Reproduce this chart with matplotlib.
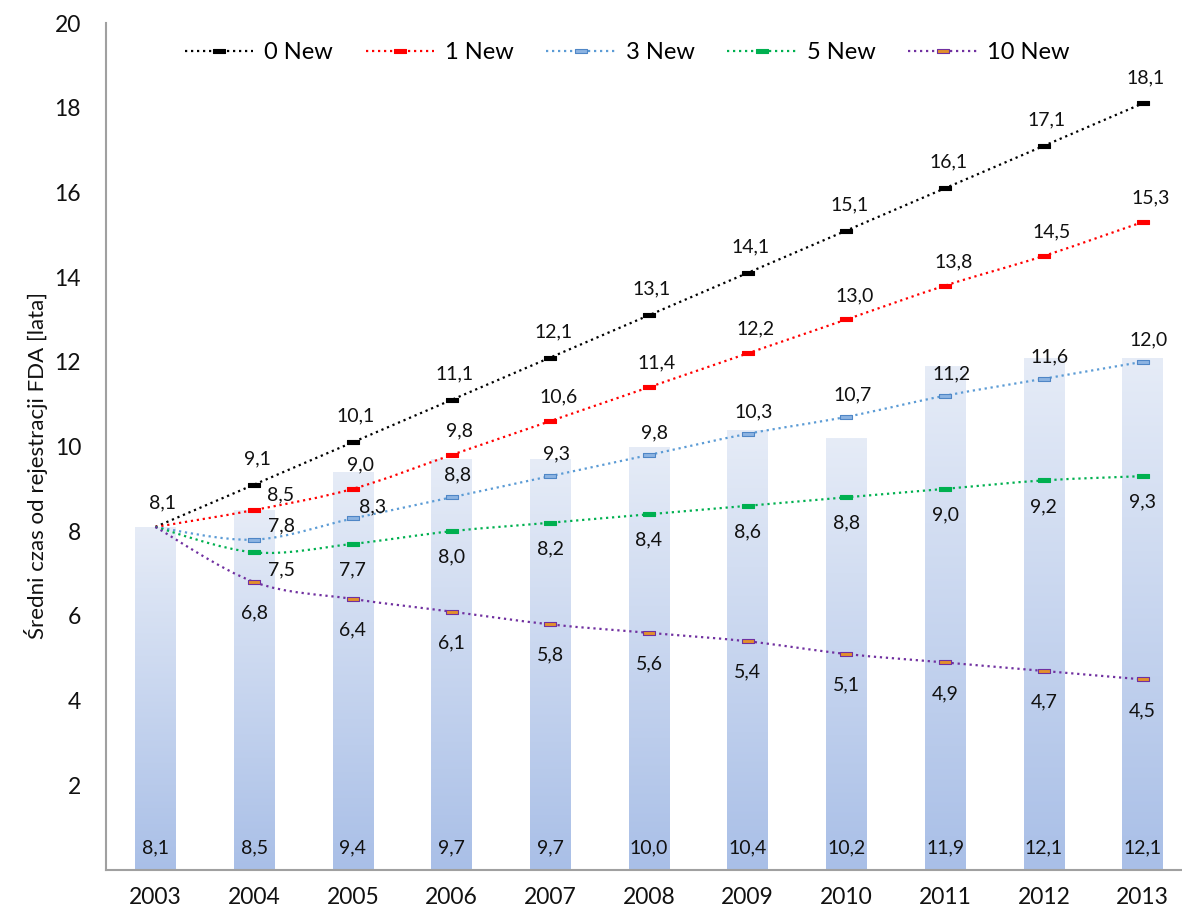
# -*- coding: utf-8 -*-
"""
Sredni czas od rejestracji FDA - prognoza 2003-2013
bars: actual mean age, dotted curves: scenarios with N new registrations
"""
import numpy as np
import matplotlib
matplotlib.use("Agg")
import matplotlib.pyplot as plt
from matplotlib.path import Path
from matplotlib.patches import PathPatch
from matplotlib.lines import Line2D
from matplotlib.colors import LinearSegmentedColormap

plt.rcParams['font.family'] = ['Lato', 'DejaVu Sans']

#------------------------------------------------------------------------------
years      = [2003, 2004, 2005, 2006, 2007, 2008, 2009, 2010, 2011, 2012, 2013]
bar_values = [8.1, 8.5, 9.4, 9.7, 9.7, 10.0, 10.4, 10.2, 11.9, 12.1, 12.1]

new_0  = [8.1, 9.1, 10.1, 11.1, 12.1, 13.1, 14.1, 15.1, 16.1, 17.1, 18.1]
new_1  = [8.1, 8.5, 9.0, 9.8, 10.6, 11.4, 12.2, 13.0, 13.8, 14.5, 15.3]
new_3  = [8.1, 7.8, 8.3, 8.8, 9.3, 9.8, 10.3, 10.7, 11.2, 11.6, 12.0]
new_5  = [8.1, 7.5, 7.7, 8.0, 8.2, 8.4, 8.6, 8.8, 9.0, 9.2, 9.3]
new_10 = [8.1, 6.8, 6.4, 6.1, 5.8, 5.6, 5.4, 5.1, 4.9, 4.7, 4.5]

series_labels = ['0 New', '1 New', '3 New', '5 New', '10 New']
y_ticks = [2, 4, 6, 8, 10, 12, 14, 16, 18, 20]

#------------------------------------------------------------------------------
def fmt(v):
    return ('%.1f' % v).replace('.', ',')

def smooth_path(xs, ys):
    # cubic bezier through the points (excel-like smoothing)
    pts = np.column_stack([xs, ys]).astype(float)
    n = len(pts)
    verts = [pts[0]]
    codes = [Path.MOVETO]
    for i in range(n - 1):
        p0 = pts[i - 1] if i > 0 else pts[i]
        p1 = pts[i]
        p2 = pts[i + 1]
        p3 = pts[i + 2] if i + 2 < n else pts[i + 1]
        c1 = p1 + (p2 - p0) / 6.0
        c2 = p2 - (p3 - p1) / 6.0
        verts += [c1, c2, p2]
        codes += [Path.CURVE4] * 3
    return Path(verts, codes)

def rect_marker(h=0.32):
    return Path([(-1, -h), (1, -h), (1, h), (-1, h), (-1, -h)],
                [Path.MOVETO, Path.LINETO, Path.LINETO, Path.LINETO,
                 Path.CLOSEPOLY])

#------------------------------------------------------------------------------
fig = plt.figure(figsize=(11.82, 9.15), dpi=100)
ax = fig.add_axes([106 / 1182, 45 / 915, 1086 / 1182, 847 / 915])

x = np.arange(len(years))
bar_w = 0.41

# bars with vertical gradient (light on top, darker at the base)
bar_cmap = LinearSegmentedColormap.from_list('bar', ['#a9bfe7', '#e6ecf7'])
grad = np.linspace(0, 1, 256).reshape(-1, 1)
bars = ax.bar(x, bar_values, width=bar_w, color='none', edgecolor='none', zorder=1)
for b, v in zip(bars, bar_values):
    im = ax.imshow(grad, cmap=bar_cmap, origin='lower', aspect='auto',
                   extent=(b.get_x(), b.get_x() + b.get_width(), 0, v),
                   zorder=1)
    im.set_clip_path(b)
    ax.annotate(fmt(v), (b.get_x() + b.get_width() / 2, 0),
                xytext=(0, 22), textcoords='offset pixels',
                ha='center', va='center', fontsize=14, color='#111111', zorder=5)

# scenario curves
series = [new_0, new_1, new_3, new_5, new_10]
line_colors = ['#000000', '#ff0000', '#5b9bd5', '#00b050', '#7030a0']
mark_faces  = ['#000000', '#ff0000', '#8db4e2', '#00b050', '#e3912c']
mark_edges  = ['#000000', '#ff0000', '#4f86c6', '#00b050', '#7030a0']
label_offsets = [(3, 26), (8, 24), (6, 22), (0, -26), (0, -31)]
# a few labels near the common start are pushed aside
special_offsets = {(1, 1): (26, 15), (2, 1): (27, 14), (2, 2): (20, 12),
                   (3, 1): (27, -18)}
dash = (0, (1, 1.7))
lw = 1.6
mk = rect_marker()

handles = []
for k, (vals, lc, mf, me, off) in enumerate(zip(series, line_colors, mark_faces,
                                                mark_edges, label_offsets)):
    patch = PathPatch(smooth_path(x, vals), fill=False, edgecolor=lc, lw=lw,
                      linestyle=dash, capstyle='butt', zorder=3)
    ax.add_patch(patch)
    ax.plot(x[1:], vals[1:], linestyle='none', marker=mk, markersize=9,
            markerfacecolor=mf, markeredgecolor=me, markeredgewidth=0.8,
            zorder=4)
    for i in range(1, len(years)):
        dx, dy = special_offsets.get((k, i), off)
        ax.annotate(fmt(vals[i]), (x[i], vals[i]), xytext=(dx, dy),
                    textcoords='offset pixels', ha='center', va='center',
                    fontsize=14, color='#111111', zorder=5)
    handles.append(Line2D([], [], color=lc, lw=lw, linestyle=dash,
                          dash_capstyle='butt', marker=mk, markersize=9,
                          markerfacecolor=mf, markeredgecolor=me,
                          markeredgewidth=0.8))

# common start point label
ax.annotate(fmt(new_0[0]), (x[0], new_0[0]), xytext=(7, 24),
            textcoords='offset pixels', ha='center', va='center',
            fontsize=14, color='#111111', zorder=5)

ax.legend(handles, series_labels, loc='center', bbox_to_anchor=(0.48, 0.965),
          ncol=5, frameon=False, fontsize=17, handlelength=2.9,
          handletextpad=0.45, columnspacing=1.4, numpoints=1)

ax.set_xlim(-0.5, 10.5)
ax.set_ylim(0, 20)
ax.set_xticks(x)
ax.set_xticklabels([str(y) for y in years])
ax.set_yticks(y_ticks)
ax.tick_params(axis='both', length=0, labelsize=16.5, colors='#111111')
ax.tick_params(axis='y', pad=18)
ax.tick_params(axis='x', pad=12)

for s in ('top', 'right'):
    ax.spines[s].set_visible(False)
for s in ('left', 'bottom'):
    ax.spines[s].set_color('#a0a0a0')
    ax.spines[s].set_linewidth(1.5)

ax.set_ylabel('Średni czas od rejestracji FDA [lata]', fontsize=16, color='#111111')
ax.yaxis.set_label_coords(-0.0534, 0.477)

fig.savefig('out.png', dpi=100)
plt.close(fig)
